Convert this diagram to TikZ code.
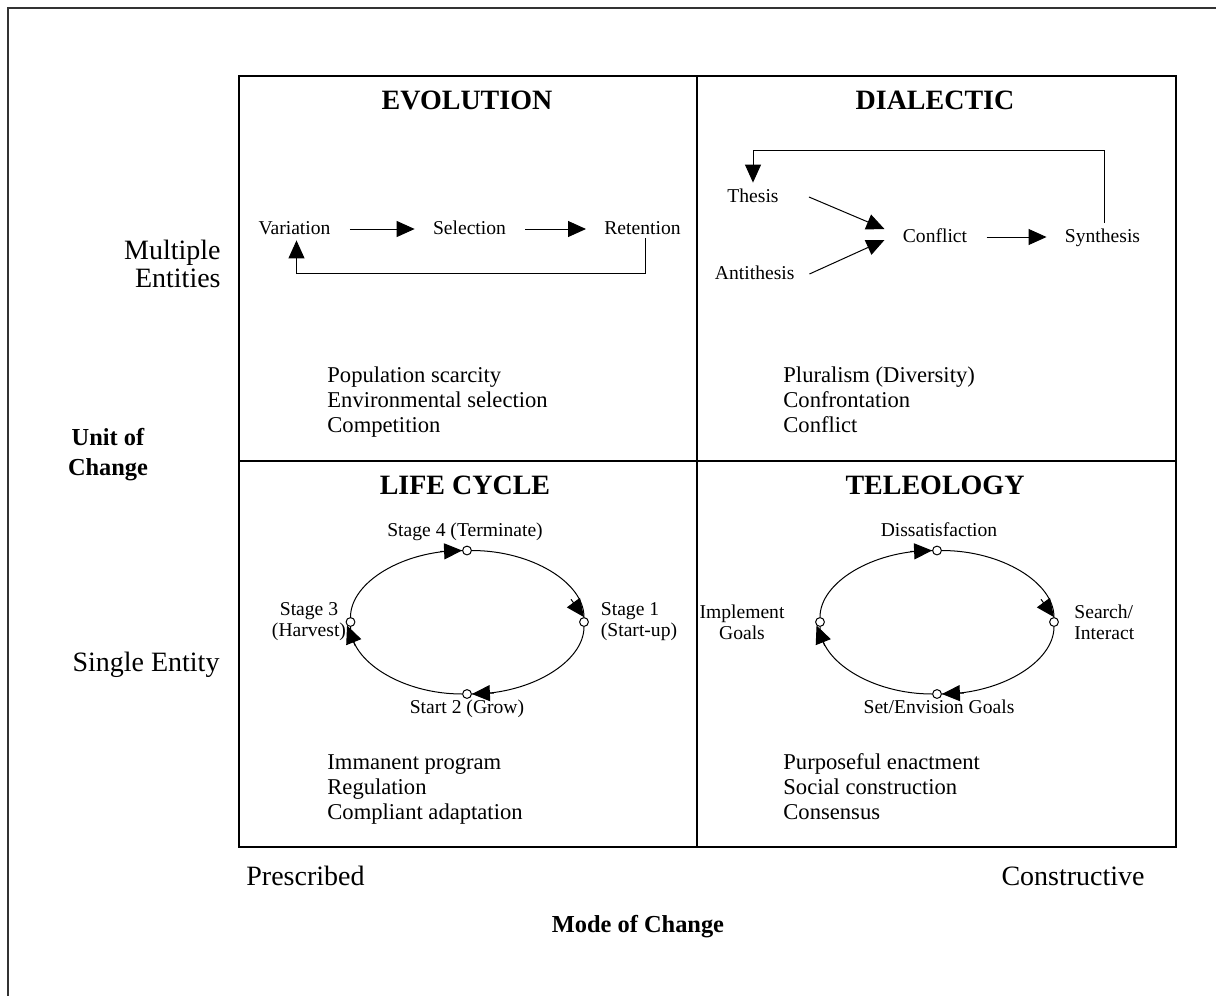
\documentclass[tikz,border=0pt]{standalone}
\usepackage{fontspec}
\setmainfont{Liberation Serif}
\usetikzlibrary{arrows.meta}
\begin{document}
\begin{tikzpicture}[x=0.5pt,y=0.5pt,
  lbl/.style={font=\fontsize{9.8}{11}\selectfont, inner sep=2.5pt, text height=7pt, text depth=2pt},
  mlbl/.style={font=\fontsize{9.8}{10.5}\selectfont, inner sep=0pt},
  lst/.style={font=\fontsize{11.3}{12.5}\selectfont, align=left, anchor=west, inner sep=0pt},
  axislbl/.style={font=\fontsize{14}{14}\selectfont, inner sep=0pt},
  axisttl/.style={font=\fontsize{12.2}{15}\selectfont\bfseries, inner sep=0pt},
  ttl/.style={font=\fontsize{14}{16}\selectfont\bfseries, inner sep=0pt},
  arr/.style={line width=0.5pt, -{Triangle[length=9pt,width=8pt]}},
  plain/.style={line width=0.5pt},
  dot/.style={circle, draw, line width=0.5pt, fill=white, minimum size=4.4pt, inner sep=0pt},
  gridline/.style={line width=0.8pt},
  frameline/.style={line width=1pt, black!80},
]
\useasboundingbox (0,0) rectangle (1216,-996);
% outer frame
\draw[frameline] (8,-996) -- (8,-8) -- (1216,-8);
% grid
\draw[gridline] (239,-76) rectangle (1176,-847);
\draw[gridline] (697,-76) -- (697,-847);
\draw[gridline] (239,-461) -- (1176,-461);

% axis labels
\node[axislbl, align=right, anchor=east] (multi) at (221,-264) {Multiple\\Entities};
\node[axislbl] (single) at (146,-665) {Single Entity};
\node[axisttl, align=center] (unit) at (108,-455) {Unit of\\Change};
\node[axislbl, anchor=west] (pres) at (246,-876) {Prescribed};
\node[axislbl, anchor=east] (cons) at (1145,-876) {Constructive};
\node[axisttl] (mode) at (638,-927) {Mode of Change};

% titles
\node[ttl] (tevo) at (467,-100) {EVOLUTION};
\node[ttl] (tdia) at (935,-100) {DIALECTIC};
\node[ttl] (tlife) at (465,-485) {LIFE CYCLE};
\node[ttl] (ttel) at (935,-485) {TELEOLOGY};

% evolution
\node[lbl] (var) at (294.5,-229) {Variation};
\node[lbl] (sel) at (469.5,-229) {Selection};
\node[lbl] (ret) at (642.5,-229) {Retention};
\draw[arr, shorten <=7pt, shorten >=6.5pt] (var) -- (sel);
\draw[arr, shorten <=7pt, shorten >=6.5pt] (sel) -- (ret);
\draw[arr] ([xshift=1.5pt,yshift=2.5pt]ret.south) -- ++(0,-35) -| ([xshift=1pt,yshift=1.5pt]var.south);

% dialectic
\node[lbl] (th) at (753,-197) {Thesis};
\node[lbl] (ant) at (754.7,-274) {Antithesis};
\node[lbl] (con) at (935,-237) {Conflict};
\node[lbl] (syn) at (1102.5,-237) {Synthesis};
\draw[arr] ([xshift=12.5pt]th.east) -- ([xshift=-6.5pt,yshift=4pt]con.west);
\draw[arr] ([xshift=4.8pt]ant.east) -- ([xshift=-6.5pt,yshift=-1.5pt]con.west);
\draw[arr, shorten <=7pt, shorten >=6.5pt] (con) -- (syn);
\draw[arr] ([xshift=0.8pt]syn.north) -- ++(0,72) -| (th.north);

% lists
\node[lst] (l1) at (327,-402) {\strut Population scarcity\\Environmental selection\\Competition\strut};
\node[lst] (l2) at (783,-402) {\strut Pluralism (Diversity)\\Confrontation\\Conflict\strut};
\node[lst] (l3) at (327,-789) {\strut Immanent program\\Regulation\\Compliant adaptation\strut};
\node[lst] (l4) at (783,-789) {\strut Purposeful enactment\\Social construction\\Consensus\strut};

% life cycle
\node[dot] (lcl) at (350.5,-622) {};
\node[dot] (lct) at (467,-550.5) {};
\node[dot] (lcr) at (584,-622) {};
\node[dot] (lcb) at (467,-694) {};
\draw[plain] (lcl) .. controls +(0,39.5) and +(-64.5,0) .. (lct);
\draw[plain] (lct) .. controls +(64.5,0) and +(0,39.5) .. (lcr);
\draw[plain] (lcr) .. controls +(0,-39.5) and +(64.5,0) .. (lcb);
\draw[plain] (lcb) .. controls +(-64.5,0) and +(0,-39.5) .. (lcl);
\draw[arr] ([xshift=-11pt,yshift=-0.5pt]lct.west) -- (lct.west);
\draw[arr] ([xshift=-6.5pt,yshift=8.9pt]lcr.north) -- (lcr.north);
\draw[arr] ([xshift=11pt,yshift=0.5pt]lcb.east) -- (lcb.east);
\draw[arr] ([xshift=4.1pt,yshift=-10.2pt]lcl.south west) -- (lcl.south west);
\node[lbl] (s4) at (465,-531) {Stage 4 (Terminate)};
\node[mlbl, align=left, anchor=west] (s1) at (600.5,-622) {Stage 1\\(Start-up)};
\node[mlbl, align=center] (s3) at (309,-622) {Stage 3\\(Harvest)};
\node[lbl] (s2) at (467,-708) {Start 2 (Grow)};

% teleology
\node[dot] (tcl) at (820,-622) {};
\node[dot] (tct) at (937,-550.5) {};
\node[dot] (tcr) at (1054,-622) {};
\node[dot] (tcb) at (937,-694) {};
\draw[plain] (tcl) .. controls +(0,39.5) and +(-64.5,0) .. (tct);
\draw[plain] (tct) .. controls +(64.5,0) and +(0,39.5) .. (tcr);
\draw[plain] (tcr) .. controls +(0,-39.5) and +(64.5,0) .. (tcb);
\draw[plain] (tcb) .. controls +(-64.5,0) and +(0,-39.5) .. (tcl);
\draw[arr] ([xshift=-11pt,yshift=-0.5pt]tct.west) -- (tct.west);
\draw[arr] ([xshift=-6.5pt,yshift=8.9pt]tcr.north) -- (tcr.north);
\draw[arr] ([xshift=11pt,yshift=0.5pt]tcb.east) -- (tcb.east);
\draw[arr] ([xshift=4.1pt,yshift=-10.2pt]tcl.south west) -- (tcl.south west);
\node[lbl] (dis) at (939,-531) {Dissatisfaction};
\node[mlbl, align=left, anchor=west] (srch) at (1074,-622) {Search/\\Interact};
\node[mlbl, align=center] (impl) at (742,-622) {Implement\\Goals};
\node[lbl] (setg) at (939,-708) {Set/Envision Goals};
\end{tikzpicture}
\end{document}
